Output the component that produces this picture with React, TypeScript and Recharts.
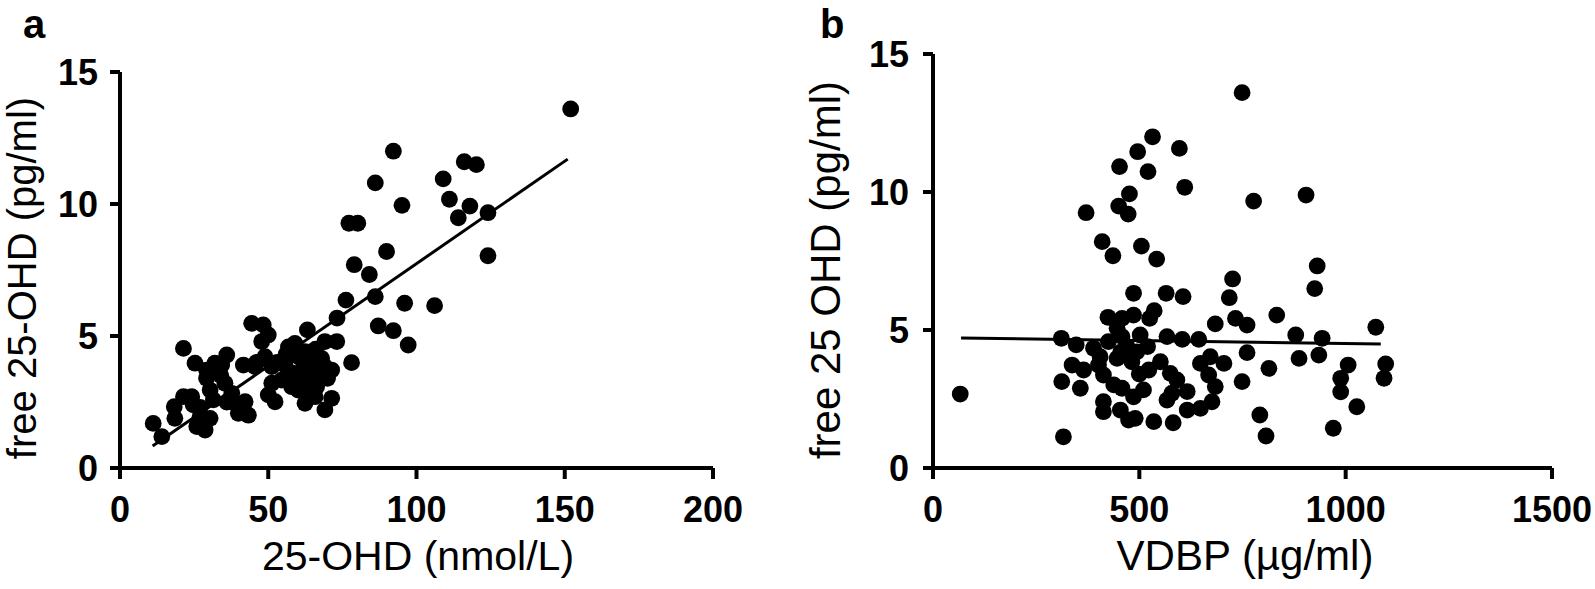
import React from 'react';
import { ScatterChart, Scatter, XAxis, YAxis, ReferenceLine } from 'recharts';

// panel a: 25-OHD (nmol/L) vs free 25-OHD (pg/ml)
const aX = [
  152, 92.2, 86.1, 95.1, 77.2, 80.2, 89.9, 79, 84.1, 76.2, 86.1, 96, 106.1, 73.2, 63.2, 87.1, 92.2,
  109, 116.1, 120.2, 111.1, 118, 114.1, 124.1, 124.1, 97.2,
  11.2, 14.1, 21.4, 25.3, 18.3, 18.5, 21.4, 24.2, 24.7, 27, 25.9, 28.7, 30.4, 29.2, 29.2, 32, 36,
  34.3, 30.4, 31.5, 35.4, 37.7, 38.8, 39.9, 43.3, 42.2, 41.6, 44.4, 48.3, 50, 47.8, 48.9, 45.5,
  51.2, 51.2, 50, 52.3, 54.5, 56.8, 59, 55.6, 60.1, 57.9, 60.1, 62.4, 64.7, 63, 65.8, 61.8, 66.3,
  62.4, 65.8, 69.1, 69.1, 73.1, 69.1, 71.4, 68, 71.4, 78.1,
  56, 58, 62, 66, 67, 70, 64, 34, 46, 27, 36, 53,
];
const aY = [
  13.6, 12.0, 10.8, 9.95, 9.27, 9.27, 8.2, 7.7, 7.33, 6.36, 6.49, 6.24, 6.15, 5.68, 5.23, 5.38, 5.2,
  10.95, 11.6, 11.49, 10.18, 9.92, 9.48, 9.67, 8.04, 4.66,
  1.69, 1.19, 4.53, 3.97, 2.32, 1.88, 2.7, 2.7, 2.39, 1.94, 1.57, 1.44, 1.88, 3.71, 3.4, 3.97, 4.28,
  3.9, 2.95, 2.58, 3.21, 2.83, 2.45, 2.07, 2.0, 2.51, 3.9, 5.48, 5.42, 5.04, 4.79, 4.22, 3.84,
  3.84, 3.21, 2.77, 2.51, 3.33, 4.59, 4.72, 3.9, 4.22, 3.08, 2.95, 4.41, 4.09, 3.65, 3.59, 3.33, 3.08,
  2.45, 2.7, 2.2, 4.79, 4.79, 3.84, 3.71, 4.15, 2.64, 3.99,
  4.3, 3.6, 3.9, 4.5, 3.3, 3.4, 2.9, 3.5, 4.0, 2.3, 2.5, 4.0,
];
const aFit = [
  { x: 11, y: 0.83 },
  { x: 151, y: 11.7 },
];
const aXTicks = [0, 50, 100, 150, 200];

// panel b: VDBP (µg/ml) vs free 25 OHD (pg/ml)
const bX = [
  749, 532, 496, 597, 452, 521, 610, 476, 450, 473, 371, 777, 904, 410, 436, 505, 542, 931, 925, 726,
  718, 486, 565, 606, 536, 525, 424, 458, 486, 684, 733, 761, 833, 1073, 311, 347, 389, 425, 446, 458,
  502, 567, 604, 644, 879, 943, 761, 887, 935, 494, 482, 446, 405, 337, 365, 312, 357, 401, 413, 438,
  458, 486, 510, 523, 551, 575, 591, 579, 616, 648, 672, 705, 668, 684, 676, 648, 616, 749, 814, 1006,
  988, 988, 1027, 1097, 1093, 970, 792, 807, 413, 413, 454, 474, 490, 535, 582, 316, 567, 66,
  470, 480, 455, 500, 520,
];
const bY = [
  13.6, 12.0, 11.46, 11.58, 10.92, 10.74, 10.17, 9.93, 9.49, 9.2, 9.25, 9.67, 9.89, 8.2, 7.69, 8.04, 7.57, 7.32, 6.5, 6.85,
  6.17, 6.33, 6.33, 6.21, 5.7, 5.42, 5.46, 5.42, 5.54, 5.22, 5.42, 5.18, 5.54, 5.1, 4.7, 4.46, 4.34, 4.58, 5.06, 4.76,
  4.82, 4.76, 4.66, 4.66, 4.82, 4.7, 4.18, 3.97, 4.09, 4.21, 3.85, 3.97, 4.03, 3.73, 3.55, 3.13, 2.89, 3.73, 3.37, 3.01,
  2.89, 2.58, 2.83, 3.55, 3.85, 3.43, 3.19, 2.71, 2.77, 3.79, 4.03, 3.79, 3.37, 2.95, 2.4, 2.16, 2.1, 3.13, 3.61, 3.73,
  3.25, 2.76, 2.22, 3.77, 3.25, 1.44, 1.92, 1.16, 2.4, 2.04, 2.1, 1.74, 1.8, 1.68, 1.64, 1.13, 2.46, 2.68,
  4.4, 4.0, 4.2, 3.4, 4.4,
];
const bFit = [
  { x: 68, y: 4.71 },
  { x: 1085, y: 4.49 },
];
const bXTicks = [0, 500, 1000, 1500];

const yTicks = [0, 5, 10, 15];

const aData = aX.map((x, i) => ({ x, y: aY[i] }));
const bData = bX.map((x, i) => ({ x, y: bY[i] }));

const FONT = '"Liberation Sans", Arial, Helvetica, sans-serif';
const axisStroke = { stroke: '#000', strokeWidth: 4 };
const tickStyle = { fill: '#000', fontSize: 36, fontWeight: 700, fontFamily: FONT };

const Dot = (props: any) => <circle cx={props.cx} cy={props.cy} r={8.4} fill="#000" />;

const App: React.FC = () => {
  return (
    <div style={{ position: 'absolute', left: 0, top: 0, width: 1595, height: 589, background: '#fff' }}>
      <div style={{ position: 'absolute', left: 0, top: 0 }}>
        <ScatterChart width={780} height={589} margin={{ top: 72, right: 67, left: 0, bottom: 61 }}>
          <XAxis
            type="number"
            dataKey="x"
            domain={[0, 200]}
            ticks={aXTicks}
            interval={0}
            height={60}
            axisLine={axisStroke}
            tickLine={axisStroke}
            tickSize={11}
            tickMargin={17}
            tick={tickStyle}
          />
          <YAxis
            type="number"
            dataKey="y"
            domain={[0, 15]}
            ticks={yTicks}
            interval={0}
            width={120}
            axisLine={axisStroke}
            tickLine={axisStroke}
            tickSize={10}
            tickMargin={12}
            tick={tickStyle}
          />
          <Scatter data={aData} fill="#000" shape={Dot} isAnimationActive={false} />
          <ReferenceLine segment={aFit} stroke="#000" strokeWidth={3} />
        </ScatterChart>
      </div>
      <div style={{ position: 'absolute', left: 780, top: 0 }}>
        <ScatterChart width={815} height={589} margin={{ top: 54, right: 43, left: 0, bottom: 61 }}>
          <XAxis
            type="number"
            dataKey="x"
            domain={[0, 1500]}
            ticks={bXTicks}
            interval={0}
            height={60}
            axisLine={axisStroke}
            tickLine={axisStroke}
            tickSize={11}
            tickMargin={17}
            tick={tickStyle}
          />
          <YAxis
            type="number"
            dataKey="y"
            domain={[0, 15]}
            ticks={yTicks}
            interval={0}
            width={153}
            axisLine={axisStroke}
            tickLine={axisStroke}
            tickSize={10}
            tickMargin={14}
            tick={tickStyle}
          />
          <Scatter data={bData} fill="#000" shape={Dot} isAnimationActive={false} />
          <ReferenceLine segment={bFit} stroke="#000" strokeWidth={3} />
        </ScatterChart>
      </div>
      {/* panel letters and axis titles */}
      <svg
        width={1595}
        height={589}
        style={{ position: 'absolute', left: 0, top: 0, pointerEvents: 'none' }}
        fontFamily={FONT}
        fill="#000"
      >
        <text x={23} y={38} fontSize={40} fontWeight={700}>a</text>
        <text x={820} y={38} fontSize={40} fontWeight={700}>b</text>
        <text x={418} y={570} fontSize={41} textAnchor="middle">25-OHD (nmol/L)</text>
        <text x={36} y={278} fontSize={40} textAnchor="middle" transform="rotate(-90 36 278)">
          free 25-OHD (pg/ml)
        </text>
        <text x={1245} y={570} fontSize={42} textAnchor="middle">VDBP (µg/ml)</text>
        <text x={840} y={270} fontSize={42} textAnchor="middle" transform="rotate(-90 840 270)">
          free 25 OHD (pg/ml)
        </text>
      </svg>
    </div>
  );
};

export default App;
